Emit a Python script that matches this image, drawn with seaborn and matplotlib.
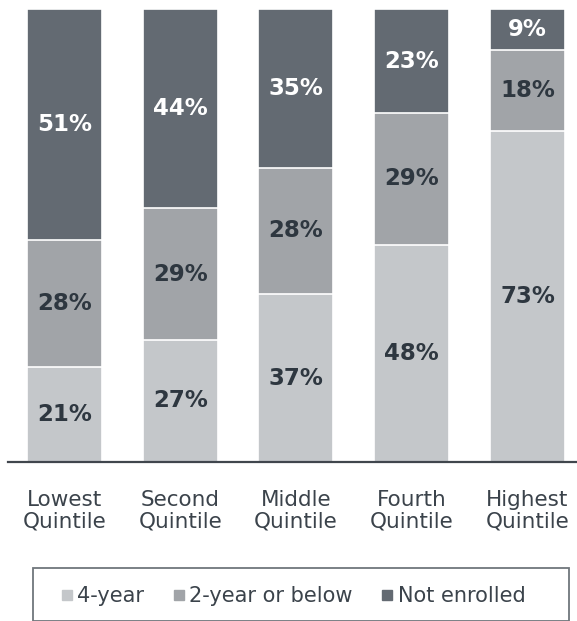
import matplotlib
matplotlib.use("Agg")
import matplotlib.pyplot as plt
from matplotlib.lines import Line2D
from matplotlib.patches import Rectangle
import seaborn as sns
import pandas as pd
import numpy as np

categories = ["Lowest\nQuintile", "Second\nQuintile", "Middle\nQuintile", "Fourth\nQuintile", "Highest\nQuintile"]
four_year = [21, 27, 37, 48, 73]
two_year = [28, 29, 28, 29, 18]
not_enrolled = [51, 44, 35, 23, 9]
series_names = ["4-year", "2-year or below", "Not enrolled"]

c_light = "#c4c7ca"
c_mid = "#a1a4a8"
c_dark = "#636a72"
txt_dark = "#2e3740"

sns.set_theme(style="white")
plt.rcParams["font.family"] = ["DejaVu Sans"]

W, H = 577, 621
fig = plt.figure(figsize=(W / 100, H / 100), dpi=100)
ax = fig.add_axes([8 / W, (H - 462) / H, (W - 8) / W, 453 / H])

df = pd.DataFrame({"cat": categories, "a": four_year, "b": two_year, "c": not_enrolled})
df["ab"] = df["a"] + df["b"]
df["abc"] = df["ab"] + df["c"]

bw = 0.648
for col, color in [("abc", c_dark), ("ab", c_mid), ("a", c_light)]:
    sns.barplot(data=df, x="cat", y=col, color=color, width=bw, edgecolor="white",
                linewidth=1.2, saturation=1, ax=ax, order=categories)

fs = 16.5
for i in range(len(categories)):
    a, b, c = four_year[i], two_year[i], not_enrolled[i]
    ax.text(i, a / 2, f"{a}%", ha="center", va="center", fontsize=fs, fontweight="bold", color=txt_dark)
    ax.text(i, a + b / 2, f"{b}%", ha="center", va="center", fontsize=fs, fontweight="bold", color=txt_dark)
    ax.text(i, a + b + c / 2, f"{c}%", ha="center", va="center", fontsize=fs, fontweight="bold", color="white")

ax.set_xlim(-0.488, 4.428)
ax.set_ylim(0, 100)
ax.set_xlabel("")
ax.set_ylabel("")
ax.set_yticks([])
for s in ["top", "left", "right"]:
    ax.spines[s].set_visible(False)
ax.spines["bottom"].set_color("#40464d")
ax.spines["bottom"].set_linewidth(1.6)
ax.tick_params(axis="x", length=0, pad=20.5, labelsize=15.5, labelcolor="#3b434b")
for t in ax.get_xticklabels():
    t.set_linespacing(1.05)

# legend frame
fig.patches.append(Rectangle((33 / W, 0 / H), 536 / W, 53 / H, transform=fig.transFigure,
                             facecolor="none", edgecolor="#70767c", linewidth=1.3))
handles = [Line2D([], [], marker="s", linestyle="none", markersize=6.5, color=c)
           for c in [c_light, c_mid, c_dark]]
fig.legend(handles, series_names, loc="center", bbox_to_anchor=(293 / W, (H - 596) / H),
           ncol=3, frameon=False, fontsize=15, handlelength=0.6, handletextpad=0.2,
           columnspacing=1.35, labelcolor="#3b434b")

fig.savefig("out.png", dpi=100)
